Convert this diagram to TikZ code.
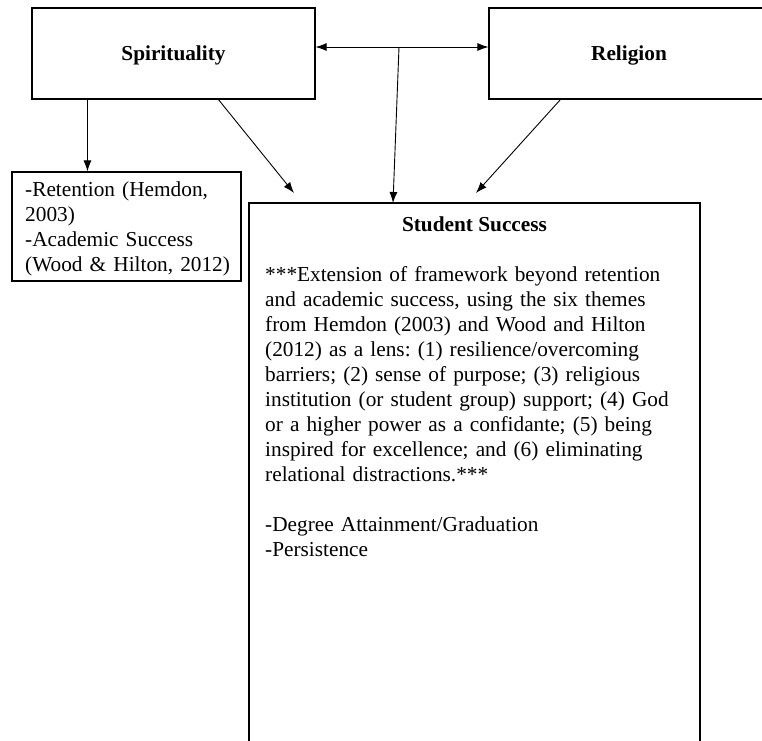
\documentclass[tikz,border=0pt]{standalone}
\usepackage{fontspec}
\setmainfont{Liberation Serif}
\usetikzlibrary{arrows.meta}
\frenchspacing
\begin{document}
\begin{tikzpicture}[x=1pt,y=-1pt,
  box/.style={draw=black,line width=1.1pt,rectangle,inner sep=0pt},
  lbl/.style={font=\fontsize{21.3}{25}\selectfont,inner sep=0pt},
  arr/.style={line width=0.9pt,-{Latex[length=11pt,width=8pt]}},
  dblarr/.style={line width=0.9pt,{Latex[length=11pt,width=8pt]}-{Latex[length=11pt,width=8pt]}}
]
\useasboundingbox (0,0) rectangle (762,740);
% boxes
\node[box,minimum width=283pt,minimum height=91pt,text depth=0pt,font=\fontsize{21.3}{25}\selectfont\bfseries] (sp) at (173.5,53.5) {Spirituality};
\node[box,minimum width=280pt,minimum height=91pt,text depth=0pt,font=\fontsize{21.3}{25}\selectfont\bfseries] (rel) at (629,53.5) {Religion};
\node[box,minimum width=229pt,minimum height=109pt] (ret) at (126.5,226.5) {};
\node[box,minimum width=451pt,minimum height=560pt] (ss) at (474.5,483) {};
% texts
\node[lbl,anchor=north west,align=left,text width=215pt] (rettext) at (25,181.5)
  {-Retention (Hemdon,\\ 2003)\\ -Academic Success\\ (Wood \& Hilton, 2012)};
\node[lbl,anchor=base,font=\fontsize{21.3}{25}\selectfont\bfseries] (sstitle) at (474.5,231) {Student Success};
\node[lbl,anchor=north west,align=left,text width=430pt] (ssbody) at (265,266.5)
  {***Extension of framework beyond retention\\
   and academic success, using the six themes\\
   from Hemdon (2003) and Wood and Hilton\\
   (2012) as a lens: (1) resilience/overcoming\\
   barriers; (2) sense of purpose; (3) religious\\
   institution (or student group) support; (4) God\\
   or a higher power as a confidante; (5) being\\
   inspired for excellence; and (6) eliminating\\
   relational distractions.***\\[25pt]
   -Degree Attainment/Graduation\\
   -Persistence};
% connectors
\coordinate (mid) at (399,47);
\coordinate (ssin) at (393,203);
\coordinate (p1) at (294,193);
\coordinate (p2) at (476,193);
\draw[dblarr] ([yshift=6.5pt]sp.east) -- ([yshift=6.5pt]rel.west);
\draw[arr] (mid) -- (ssin);
\draw[arr] ([xshift=56pt]sp.south west) -- ([xshift=76pt]ret.north west);
\draw[arr] ([xshift=187pt]sp.south west) -- (p1);
\draw[arr] ([xshift=72pt]rel.south west) -- (p2);
\end{tikzpicture}
\end{document}
